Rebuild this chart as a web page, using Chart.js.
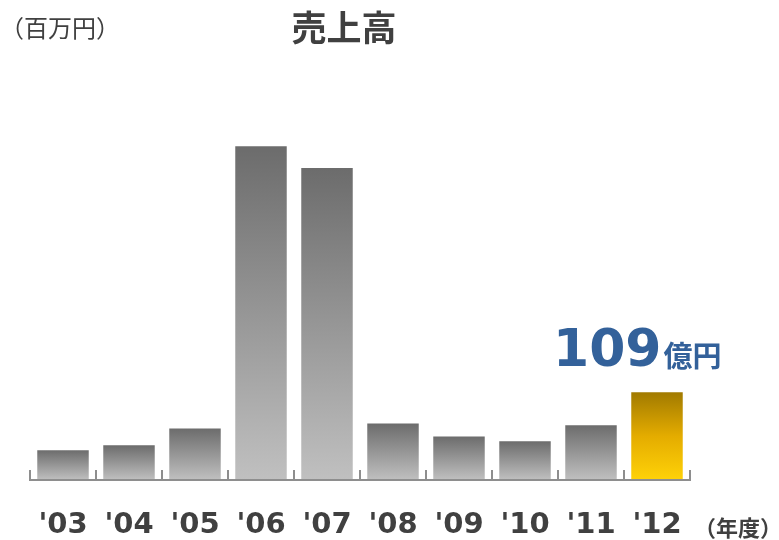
<!DOCTYPE html>
<html>
<head>
<meta charset="utf-8">
<script src="https://cdn.jsdelivr.net/npm/chart.js@4"></script>
<style>
  html, body { margin: 0; padding: 0; background: #fff; }
  #wrap { width: 779px; height: 540px; position: relative; }
</style>
</head>
<body>
<div id="wrap"><canvas id="salesChart" width="779" height="540"></canvas></div>
<script>
// 売上高（百万円）
const years = ["'03", "'04", "'05", "'06", "'07", "'08", "'09", "'10", "'11", "'12"];
const sales = [3700, 4300, 6400, 41400, 38700, 7000, 5400, 4800, 6800, 10900];
const highlightIndex = 9;

const textGray = "#404040";

// バーごとのグラデーション
function barColor(context) {
  const chart = context.chart;
  const { ctx, chartArea, scales } = chart;
  const gold = context.dataIndex === highlightIndex;
  if (!chartArea || !scales.y) return gold ? "#e0b000" : "#999999";
  const top = scales.y.getPixelForValue(context.raw);
  const bottom = scales.y.getPixelForValue(0);
  const g = ctx.createLinearGradient(0, top, 0, bottom);
  if (gold) {
    g.addColorStop(0, "#a17a00");
    g.addColorStop(0.5, "#e4ac00");
    g.addColorStop(1, "#ffd208");
  } else {
    g.addColorStop(0, "#6c6c6c");
    g.addColorStop(1, "#c0c0c0");
  }
  return g;
}

// 軸と目盛り、テキスト
const decorPlugin = {
  id: "decor",
  afterDatasetsDraw(chart) {
    const { ctx, chartArea } = chart;
    const n = years.length;
    const step = (chartArea.right - chartArea.left) / n;
    ctx.save();
    ctx.strokeStyle = "#8e8e8e";
    ctx.lineWidth = 2;
    ctx.beginPath();
    ctx.moveTo(chartArea.left, chartArea.bottom);
    ctx.lineTo(chartArea.right, chartArea.bottom);
    for (let i = 0; i <= n; i++) {
      const px = chartArea.left + i * step;
      ctx.moveTo(px, chartArea.bottom + 1);
      ctx.lineTo(px, chartArea.bottom - 10);
    }
    ctx.stroke();

    ctx.fillStyle = textGray;
    ctx.textBaseline = "alphabetic";
    ctx.textAlign = "left";
    ctx.font = "24px 'Noto Sans CJK JP'";
    ctx.fillText("（百万円）", 0, 37);
    ctx.textAlign = "center";
    ctx.font = "bold 35px 'Noto Sans CJK JP'";
    ctx.fillText("売上高", 344, 41);
    ctx.textAlign = "left";
    ctx.font = "bold 22px 'Noto Sans CJK JP'";
    ctx.fillText("（年度）", 694, 536);

    // 109億円
    const bar = chart.getDatasetMeta(0).data[highlightIndex];
    ctx.fillStyle = "#33619a";
    ctx.font = "bold 52px 'DejaVu Sans'";
    const bx = bar.x - 104;
    const by = bar.y - 26;
    ctx.fillText("109", bx, by);
    const w = ctx.measureText("109").width;
    ctx.font = "bold 29px 'Noto Sans CJK JP'";
    ctx.fillText("億円", bx + w + 2, by + 1);
    ctx.restore();
  }
};

const ctx1 = document.getElementById("salesChart").getContext("2d");
const salesChart = new Chart(ctx1, {
  type: "bar",
  data: {
    labels: years,
    datasets: [{
      data: sales,
      backgroundColor: barColor,
      borderWidth: 0,
      barPercentage: 0.78,
      categoryPercentage: 1
    }]
  },
  options: {
    responsive: false,
    animation: false,
    layout: { padding: { left: 30, right: 89, top: 77, bottom: 0 } },
    plugins: { legend: { display: false }, tooltip: { enabled: false } },
    scales: {
      x: {
        grid: { display: false },
        border: { display: false },
        afterFit(scale) { scale.height = 60; },
        ticks: {
          color: textGray,
          padding: 20,
          font: { family: "'DejaVu Sans'", weight: "bold", size: 29 }
        }
      },
      y: {
        display: false,
        min: 0,
        max: 50000
      }
    }
  },
  plugins: [decorPlugin]
});
</script>
</body>
</html>
